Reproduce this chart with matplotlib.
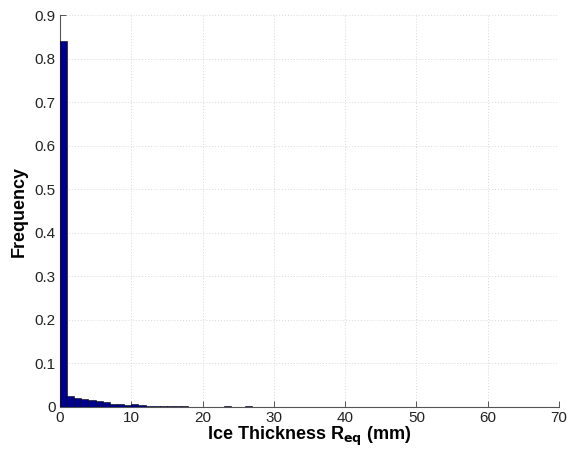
import matplotlib.pyplot as plt
import numpy as np

plt.rcParams["font.family"] = ["Liberation Sans", "DejaVu Sans"]

# histogram of equivalent ice thickness, 1 mm bins from 0 to 70 mm
bin_edges = list(range(0, 71))
frequency = [
    0.840, 0.025, 0.021, 0.018, 0.016, 0.014, 0.011, 0.008, 0.007, 0.004,
    0.008, 0.005, 0.003, 0.002, 0.002, 0.003, 0.002, 0.002, 0.001, 0.001,
    0.001, 0.001, 0.001, 0.002, 0.001, 0.001, 0.002, 0.001, 0.001, 0.0005,
    0.0005, 0.0005, 0.0005, 0.0005, 0.0005, 0.0005, 0.0005, 0.0005, 0.0005, 0.0005,
    0.0005, 0.0005, 0.0005, 0.0005, 0.0005, 0.0005, 0.0005, 0.0005, 0.0005, 0.0005,
    0.0005, 0.0005, 0.0005, 0.0005, 0.0005, 0.0005, 0.0005, 0.0005, 0.0005, 0.0005,
    0.0005, 0.0005, 0.0005, 0.0005, 0.0005, 0.0005, 0.0005, 0.0005, 0.0005, 0.0005,
]
x_ticks = [0, 10, 20, 30, 40, 50, 60, 70]
y_ticks = [0, 0.1, 0.2, 0.3, 0.4, 0.5, 0.6, 0.7, 0.8, 0.9]

fig = plt.figure(figsize=(5.68, 4.59), dpi=100)
ax = fig.add_axes([0.1056, 0.1133, 0.8785, 0.8540])

left = np.array(bin_edges[:-1], dtype=float)
width = np.diff(bin_edges)
ax.bar(left, frequency, width=width, align="edge", color="#00008F",
       edgecolor="#000000", linewidth=0.4, zorder=3)

ax.set_xlim(0, 70)
ax.set_ylim(0, 0.9)
ax.set_xticks(x_ticks)
ax.set_yticks(y_ticks)
ax.set_yticklabels(["0" if v == 0 else f"{v:g}" for v in y_ticks])

ax.grid(True, color="#D8D8D8", linestyle=(0, (1, 2)), linewidth=0.7, zorder=0)
for side in ["top", "right"]:
    ax.spines[side].set_visible(False)
for side in ["left", "bottom"]:
    ax.spines[side].set_color("#555555")
    ax.spines[side].set_linewidth(0.8)
ax.tick_params(direction="in", length=4, width=0.7, color="#555555",
               labelsize=11, labelcolor="#222222", pad=3)

ax.set_xlabel(r"Ice Thickness R$_{\mathbf{eq}}$ (mm)", fontsize=13,
              fontweight="bold", labelpad=0)
ax.set_ylabel("Frequency", fontsize=13, fontweight="bold", labelpad=5)

fig.savefig("out.png", dpi=100, facecolor="white")
